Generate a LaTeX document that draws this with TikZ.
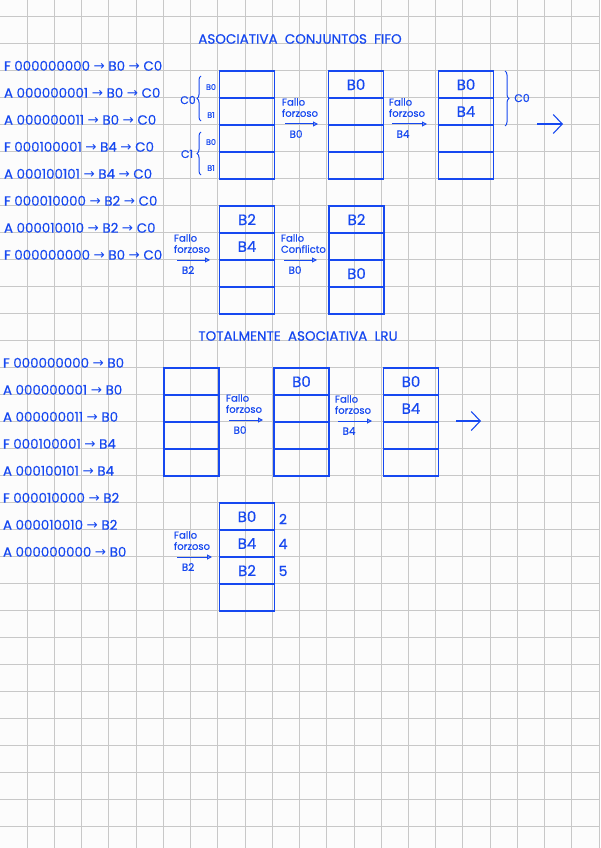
\documentclass[tikz,border=0pt]{standalone}
\usepackage{fontspec}
\usepackage{graphicx}
\setmainfont{Poppins}[FakeBold=0.5]
\newfontfamily\dvfont{DejaVu Sans}
\usetikzlibrary{decorations.pathreplacing,arrows.meta}
\definecolor{ink}{RGB}{22,72,240}
\definecolor{gridc}{RGB}{200,200,200}
\definecolor{paper}{RGB}{252,252,252}
\newcommand\rarr{{\dvfont →}}
\tikzset{
  inktext/.style={text=ink, inner sep=0pt, outer sep=0pt},
  listtxt/.style={inktext, anchor=base west, font=\fontsize{13.4}{16}\selectfont},
  titletxt/.style={inktext, anchor=base, font=\fontsize{13.5}{15}\selectfont},
  cell/.style={draw=ink, line width=1.2pt, minimum width=55pt, minimum height=27pt,
    inner sep=0pt, outer sep=0pt, text=ink, font=\fontsize{15}{18}\selectfont},
  outerbox/.style={draw=ink, line width=1.8pt},
  thicksep/.style={draw=ink, line width=1.8pt},
  smalltxt/.style={inktext, font=\fontsize{10}{11}\selectfont, anchor=west},
  undertxt/.style={inktext, font=\fontsize{10.5}{12}\selectfont},
  misstip/.style={draw=ink, line width=1pt, -{Triangle[open,length=5pt,width=5pt]}},
  bigarrow/.style={draw=ink, line width=1.1pt, -{Straight Barb[length=9pt,width=19pt]}},
  bracestyle/.style={draw=ink, line width=1pt, decorate, decoration={brace, amplitude=4pt}},
  setlabel/.style={inktext, font=\fontsize{11}{12}\selectfont},
  waylabel/.style={inktext, font=\fontsize{8}{9}\selectfont},
  agetxt/.style={inktext, font=\fontsize{14}{16}\selectfont}
}
\newcommand\cachecol[7]{%
  \node[cell, anchor=north west] (#1-1) at (#2,#3) {#4};
  \node[cell, anchor=north] (#1-2) at (#1-1.south) {#5};
  \node[cell, anchor=north] (#1-3) at (#1-2.south) {#6};
  \node[cell, anchor=north] (#1-4) at (#1-3.south) {#7};
  \draw[outerbox] (#1-1.north west) rectangle (#1-4.south east);
}
\newcommand\fallomark[7]{%
  \coordinate (#1-s) at (#2,#4);
  \coordinate (#1-e) at (#3,#4);
  \draw[misstip] (#1-s) -- (#1-e);
  \node[smalltxt] (#1-t1) at ([shift={(-3,-22)}]#1-s) {#5};
  \node[smalltxt] (#1-t2) at ([shift={(-3,-11)}]#1-s) {#6};
  \node[undertxt] (#1-b) at ([shift={(11,10)}]#1-s) {#7};
}
\begin{document}
\begin{tikzpicture}[x=1pt,y=-1pt]
\useasboundingbox (0,0) rectangle (600,848);
\fill[paper] (0,0) rectangle (600,848);
\foreach \i in {1,...,22} \draw[gridc, line width=0.9pt] (\i*27.23,0) -- (\i*27.23,848);
\foreach \j in {0,...,30} \draw[gridc, line width=0.9pt] (0,16.7+\j*27) -- (600,16.7+\j*27);

% ---------- section 1 ----------
\node[titletxt] (t1) at (300,43.7) {ASOCIATIVA\ \ CONJUNTOS\ \ FIFO};

\node[listtxt] (l1) at (4,70.7)  {F 000000000 \rarr\ B0 \rarr\ C0};
\node[listtxt] (l2) at (4,97.7)  {A 000000001 \rarr\ B0 \rarr\ C0};
\node[listtxt] (l3) at (4,124.7) {A 000000011 \rarr\ B0 \rarr\ C0};
\node[listtxt] (l4) at (4,151.7) {F 000100001 \rarr\ B4 \rarr\ C0};
\node[listtxt] (l5) at (4,178.7) {A 000100101 \rarr\ B4 \rarr\ C0};
\node[listtxt] (l6) at (4,205.7) {F 000010000 \rarr\ B2 \rarr\ C0};
\node[listtxt] (l7) at (4,232.7) {A 000010010 \rarr\ B2 \rarr\ C0};
\node[listtxt] (l8) at (4,259.7) {F 000000000 \rarr\ B0 \rarr\ C0};

\cachecol{ca}{219.5}{71}{}{}{}{}
\draw[thicksep] (ca-2.south west) -- (ca-2.south east);
\draw[bracestyle] (201,121) -- (201,76);
\draw[bracestyle] (201,175) -- (201,132);
\node[setlabel] (c0a) at (188,100) {C0};
\node[setlabel] (c1a) at (187,154) {C1};
\node[waylabel] (w0a) at (211,87) {B0};
\node[waylabel] (w1a) at (211,115) {B1};
\node[waylabel] (w0b) at (211,142) {B0};
\node[waylabel] (w1b) at (211,168) {B1};

\fallomark{f1}{285}{318}{124}{Fallo}{forzoso}{B0}

\cachecol{cb}{328.5}{71}{B0}{}{}{}
\draw[thicksep] (cb-3.south west) -- (cb-3.south east);

\fallomark{f2}{392}{427}{124}{Fallo}{forzoso}{B4}

\cachecol{cc}{438.5}{71}{B0}{B4}{}{}
\draw[bracestyle] (505,71) -- (505,126);
\node[setlabel] (c0b) at (522,98) {C0};
\coordinate (n1s) at (537,124);
\coordinate (n1e) at (563,124);
\draw[bigarrow] (n1s) -- (n1e);

\fallomark{f3}{177}{210}{260}{Fallo}{forzoso}{B2}
\cachecol{cd}{219.5}{206}{B2}{B4}{}{}
\draw[thicksep] (cd-3.south west) -- (cd-3.south east);

\fallomark{f4}{284}{317}{260}{Fallo}{Conflicto}{B0}
\cachecol{ce}{329}{206}{B2}{}{B0}{}

% ---------- section 2 ----------
\node[titletxt] (t2) at (298,340.7) {TOTALMENTE\ \ ASOCIATIVA\ \ LRU};

\node[listtxt] (m1) at (3,367.7) {F 000000000 \rarr\ B0};
\node[listtxt] (m2) at (3,394.7) {A 000000001 \rarr\ B0};
\node[listtxt] (m3) at (3,421.7) {A 000000011 \rarr\ B0};
\node[listtxt] (m4) at (3,448.7) {F 000100001 \rarr\ B4};
\node[listtxt] (m5) at (3,475.7) {A 000100101 \rarr\ B4};
\node[listtxt] (m6) at (3,502.7) {F 000010000 \rarr\ B2};
\node[listtxt] (m7) at (3,529.7) {A 000010010 \rarr\ B2};
\node[listtxt] (m8) at (3,556.7) {A 000000000 \rarr\ B0};

\cachecol{da}{164}{368}{}{}{}{}
\draw[thicksep] (da-3.south west) -- (da-3.south east);
\fallomark{f5}{229}{263}{420}{Fallo}{forzoso}{B0}
\cachecol{db}{274}{368}{B0}{}{}{}
\fallomark{f6}{338}{372}{421}{Fallo}{forzoso}{B4}
\cachecol{dc}{383.5}{368}{B0}{B4}{}{}
\draw[thicksep] (dc-3.south west) -- (dc-3.south east);
\coordinate (n2s) at (456,421);
\coordinate (n2e) at (481,421);
\draw[bigarrow] (n2s) -- (n2e);

\fallomark{f7}{177}{212}{557}{Fallo}{forzoso}{B2}
\cachecol{dd}{219.5}{503}{B0}{B4}{B2}{}
\node[agetxt] (a1) at (283,519) {2};
\node[agetxt] (a2) at (283,544) {4};
\node[agetxt] (a3) at (283,571) {5};
\end{tikzpicture}
\end{document}
